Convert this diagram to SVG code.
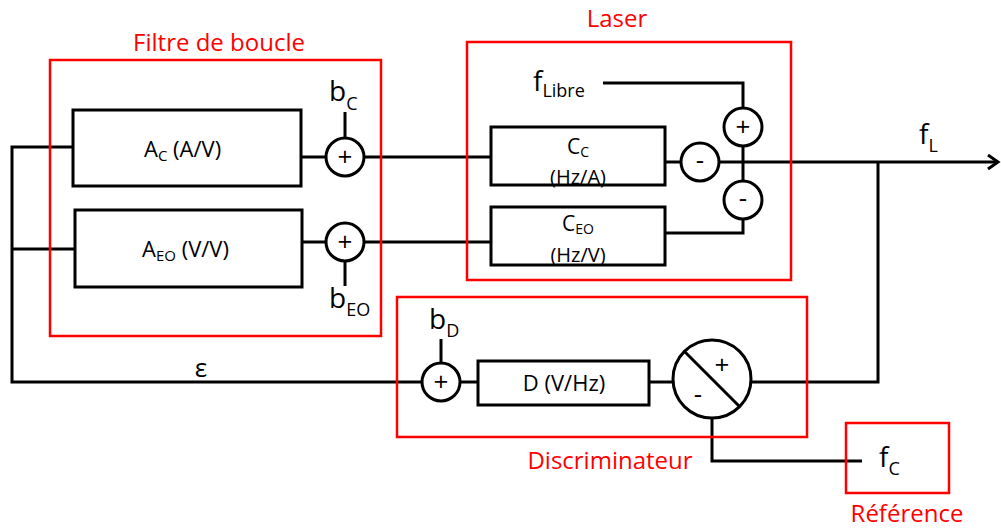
<svg xmlns="http://www.w3.org/2000/svg" width="1001" height="530" viewBox="0 0 1001 530">
<style>
.w{fill:none;stroke:#000;stroke-width:3}
.b{fill:#fff;stroke:#000;stroke-width:3}
.r{fill:none;stroke:#ff0000;stroke-width:2.5}
text{font-family:"Open Sans","DejaVu Sans",sans-serif;fill:#000}
.rl{fill:#ff0000;font-size:24px;text-anchor:middle}
.t{font-size:22px}
.t2{font-size:21px}
.m{text-anchor:middle}
.big{font-size:28px}
.sub{font-size:18px}
.sg{font-size:26px;text-anchor:middle}
</style>
<defs>
<marker id="arr" markerUnits="userSpaceOnUse" markerWidth="14" markerHeight="18" refX="11" refY="8" orient="auto">
<path d="M1,1 L11,8 L1,15" fill="none" stroke="#000" stroke-width="3"/>
</marker>
</defs>
<g id="connectors">
<path class="w" d="M73,147 H12 V382 H421"/>
<path class="w" d="M12,249 H75"/>
<path class="w" d="M301,157 H326"/>
<path class="w" d="M302,242 H326"/>
<path class="w" d="M345,112 V138"/>
<path class="w" d="M345,261 V286"/>
<path class="w" d="M364,157 H491"/>
<path class="w" d="M365,242 H491"/>
<path class="w" d="M665,162 H680"/>
<path class="w" d="M720,162 H998" marker-end="url(#arr)"/>
<path class="w" d="M603,83 H743 V107"/>
<path class="w" d="M743,147 V180"/>
<path class="w" d="M665,233 H743 V220"/>
<path class="w" d="M878,162 V382 H751"/>
<path class="w" d="M441,339 V363"/>
<path class="w" d="M461,382 H478"/>
<path class="w" d="M649,382 H673"/>
<path class="w" d="M712,419 V461 H862"/>
</g>
<g id="filtre">
<rect class="r" x="50" y="60" width="331" height="276"/>
<text class="rl" x="219" y="51">Filtre de boucle</text>
</g>
<g id="ac">
<rect class="b" x="73" y="110" width="228" height="76"/>
<text class="t" x="144" y="157">A<tspan dy="4" font-size="15">C</tspan><tspan dy="-4"> (A/V)</tspan></text>
</g>
<g id="aeo">
<rect class="b" x="75" y="210" width="227" height="77"/>
<text class="t" x="142" y="257">A<tspan dy="4" font-size="15">EO</tspan><tspan dy="-4"> (V/V)</tspan></text>
</g>
<g id="sumc">
<circle class="b" cx="345" cy="157" r="19"/>
<text class="sg" x="345" y="166">+</text>
<text class="big" x="329" y="101">b<tspan class="sub" dy="9">C</tspan></text>
</g>
<g id="sumeo">
<circle class="b" cx="345" cy="242" r="19"/>
<text class="sg" x="345" y="251">+</text>
<text class="big" x="329" y="308">b<tspan class="sub" dy="8">EO</tspan></text>
</g>
<g id="laser">
<rect class="r" x="467" y="42" width="324" height="238"/>
<text class="rl" x="617" y="27">Laser</text>
<text class="big" x="533" y="91">f<tspan class="sub" dy="6">Libre</tspan></text>
</g>
<g id="cc">
<rect class="b" x="491" y="127" width="174" height="58"/>
<text class="t2 m" x="578" y="154">C<tspan dy="3" font-size="14">C</tspan></text>
<text class="m" font-size="20" x="578" y="184">(Hz/A)</text>
</g>
<g id="ceo">
<rect class="b" x="491" y="207" width="174" height="58"/>
<text class="t2 m" x="578" y="231">C<tspan dy="3" font-size="14">EO</tspan></text>
<text class="m" font-size="20" x="578" y="262">(Hz/V)</text>
</g>
<g id="minus1">
<circle class="b" cx="700" cy="162" r="19"/>
<text class="sg" x="700" y="169">-</text>
</g>
<g id="plus2">
<circle class="b" cx="743" cy="127" r="19"/>
<text class="sg" x="743" y="136">+</text>
</g>
<g id="minus2">
<circle class="b" cx="743" cy="200" r="19"/>
<text class="sg" x="743" y="207">-</text>
</g>
<g id="fl">
<text class="big" x="919" y="144">f<tspan class="sub" dy="8">L</tspan></text>
</g>
<g id="discrim">
<rect class="r" x="397" y="297" width="410" height="140"/>
<text class="rl" x="610" y="469">Discriminateur</text>
</g>
<g id="sumd">
<circle class="b" cx="441" cy="382" r="19"/>
<text class="sg" x="441" y="391">+</text>
<text class="big" x="429" y="329">b<tspan class="sub" dy="8">D</tspan></text>
</g>
<g id="d">
<rect class="b" x="478" y="361" width="171" height="44"/>
<text class="t m" x="564" y="391">D (V/Hz)</text>
</g>
<g id="comp">
<circle class="b" cx="712" cy="379" r="39"/>
<path class="w" d="M684,351 L740,407"/>
<text class="sg" x="722" y="374">+</text>
<text class="sg" x="698" y="403">-</text>
</g>
<g id="eps">
<text x="201" y="377" font-size="26" text-anchor="middle">ε</text>
</g>
<g id="reference">
<rect class="r" x="846" y="423" width="103" height="70"/>
<text class="big" x="879" y="467">f<tspan class="sub" dy="8">C</tspan></text>
<text class="rl" x="907" y="522">Référence</text>
</g>
</svg>
